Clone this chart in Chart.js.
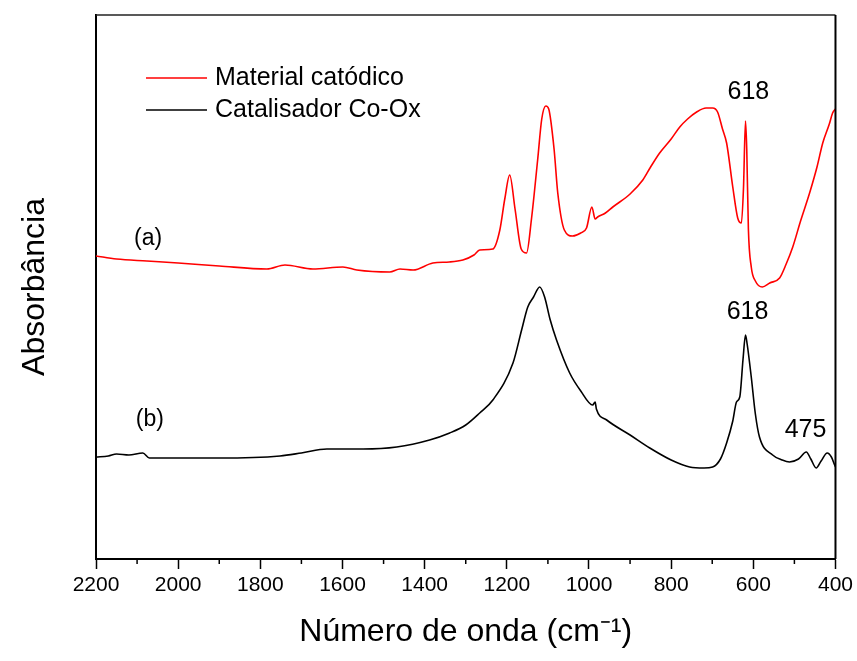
<!DOCTYPE html>
<html>
<head>
<meta charset="utf-8">
<script src="https://cdn.jsdelivr.net/npm/chart.js@4.4.0/dist/chart.umd.min.js"></script>
<style>
  html, body { margin: 0; padding: 0; background: #fff; }
  #wrap { width: 857px; height: 661px; }
</style>
</head>
<body>
<div id="wrap"><canvas id="ftirChart"></canvas></div>
<script>
// Spectrum (a) - Material catódico (wavenumber cm-1, absorbance a.u.)
const wavenumbersA = [2200, 2150, 2076, 2000, 1900, 1784, 1740, 1672, 1599, 1565, 1485, 1460, 1428, 1380, 1340, 1307, 1280, 1266, 1234, 1217, 1205, 1193, 1180, 1165, 1152, 1140, 1125, 1115, 1105, 1098, 1085, 1076, 1060, 1040, 1020, 1006, 993, 985, 979, 960, 942, 900, 869, 850, 828, 800, 779, 760, 738, 715, 699, 687, 675, 665, 650, 638, 629, 624, 619, 616, 612, 605, 595, 578, 560, 536, 520, 504, 485, 463, 445, 431, 415, 407, 400];
const absorbanceA = [303, 300, 298, 296, 293, 290, 294, 290, 292, 289, 287, 290, 289, 296, 297, 299, 304, 309, 310, 329, 360, 384, 350, 310, 306, 340, 399, 440, 453, 450, 410, 366, 329, 323, 326, 331, 352, 340, 342, 346, 352, 365, 379, 392, 406, 420, 432, 440, 447, 451, 451, 447, 430, 416, 372, 341, 336, 370, 438, 410, 330, 292, 278, 272, 276, 281, 295, 312, 338, 366, 392, 416, 435, 446, 450];

// Spectrum (b) - Catalisador Co-Ox
const wavenumbersB = [2200, 2170, 2150, 2120, 2086, 2070, 2052, 1900, 1752, 1700, 1638, 1550, 1468, 1388, 1339, 1300, 1266, 1234, 1185, 1164, 1149, 1135, 1120, 1108, 1095, 1079, 1047, 1020, 991, 985, 982, 957, 900, 852, 800, 755, 720, 699, 680, 665, 650, 641, 633, 625, 619, 615, 605, 595, 585, 553, 530, 512, 490, 471, 460, 447, 435, 420, 410, 402, 400];
const absorbanceB = [102, 103, 105, 104, 106, 101, 101, 101, 103, 106, 110, 110, 112, 119, 126, 134, 146, 159, 196, 229, 252, 262, 272, 262, 240, 219, 186, 168, 154, 157, 150, 139, 124, 111, 99, 92, 91, 92, 100, 116, 138, 157, 162, 200, 224, 215, 182, 145, 122, 104, 99, 97, 100, 107, 100, 91, 98, 106, 102, 94, 92];

const seriesNames = ["Material catódico", "Catalisador Co-Ox"];
const seriesColors = ["#ff0000", "#000000"];

// x axis ticks
const majorTicks = [2200, 2000, 1800, 1600, 1400, 1200, 1000, 800, 600, 400];
const minorTicks = [2100, 1900, 1700, 1500, 1300, 1100, 900, 700, 500];

// peak labels (text, wavenumber, absorbance)
const peakLabels = [
    { text: "618", wn: 612, abs: 467 },
    { text: "618", wn: 614, abs: 247 },
    { text: "475", wn: 473, abs: 129 },
    { text: "(a)", wn: 2073, abs: 320 },
    { text: "(b)", wn: 2069, abs: 139 }
];

const FONT = "'Liberation Sans', Arial, sans-serif";

function toPoints(xs, ys) {
    return xs.map((x, i) => ({ x: x, y: ys[i] }));
}

const framePlugin = {
    id: "frame",
    afterDraw(chart) {
        const ctx = chart.ctx;
        const area = chart.chartArea;
        const xScale = chart.scales.x;
        ctx.save();
        // top and right border
        ctx.strokeStyle = "#222";
        ctx.lineWidth = 1.5;
        ctx.beginPath();
        ctx.moveTo(area.left, area.top);
        ctx.lineTo(area.right, area.top);
        ctx.stroke();
        ctx.strokeStyle = "#000";
        ctx.lineWidth = 2;
        ctx.beginPath();
        ctx.moveTo(area.right, area.top);
        ctx.lineTo(area.right, area.bottom);
        ctx.stroke();
        // minor ticks
        ctx.lineWidth = 1.5;
        minorTicks.forEach(v => {
            const px = xScale.getPixelForValue(v);
            ctx.beginPath();
            ctx.moveTo(px, area.bottom);
            ctx.lineTo(px, area.bottom + 5);
            ctx.stroke();
        });
        // legend
        ctx.font = "25px " + FONT;
        ctx.textBaseline = "middle";
        chart.data.datasets.forEach((ds, i) => {
            const y = area.top + 63 + i * 32;
            ctx.strokeStyle = ds.borderColor;
            ctx.lineWidth = 1.6;
            ctx.beginPath();
            ctx.moveTo(area.left + 50, y);
            ctx.lineTo(area.left + 111, y);
            ctx.stroke();
            ctx.fillStyle = "#000";
            ctx.textAlign = "left";
            ctx.fillText(ds.label, area.left + 119, y);
        });
        // peak labels
        ctx.textAlign = "center";
        ctx.fillStyle = "#000";
        peakLabels.forEach(p => {
            ctx.font = (p.text.startsWith("(") ? "23px " : "25px ") + FONT;
            ctx.fillText(p.text, xScale.getPixelForValue(p.wn), chart.scales.y.getPixelForValue(p.abs));
        });
        ctx.restore();
    }
};

const ctx = document.getElementById("ftirChart").getContext("2d");
const myChart = new Chart(ctx, {
    type: "line",
    data: {
        datasets: [
            {
                label: seriesNames[0],
                data: toPoints(wavenumbersA, absorbanceA),
                borderColor: seriesColors[0],
                borderWidth: 1.6,
                pointRadius: 0,
                cubicInterpolationMode: "monotone",
                fill: false
            },
            {
                label: seriesNames[1],
                data: toPoints(wavenumbersB, absorbanceB),
                borderColor: seriesColors[1],
                borderWidth: 1.6,
                pointRadius: 0,
                cubicInterpolationMode: "monotone",
                fill: false
            }
        ]
    },
    options: {
        responsive: true,
        maintainAspectRatio: false,
        animation: false,
        layout: { padding: { left: 12, right: 21, top: 15, bottom: 6 } },
        plugins: {
            legend: { display: false },
            tooltip: { enabled: false }
        },
        scales: {
            x: {
                type: "linear",
                reverse: true,
                min: 400,
                max: 2200,
                afterBuildTicks(scale) {
                    scale.ticks = majorTicks.map(v => ({ value: v }));
                },
                afterFit(scale) {
                    scale.height = 96;
                },
                ticks: {
                    autoSkip: false,
                    maxRotation: 0,
                    padding: 4,
                    color: "#000",
                    font: { family: FONT, size: 21 },
                    callback: value => String(value)
                },
                grid: {
                    drawOnChartArea: false,
                    drawTicks: true,
                    tickLength: 10,
                    tickColor: "#000",
                    tickWidth: 1.5
                },
                border: { display: true, color: "#000", width: 2 },
                title: {
                    display: true,
                    text: "Número de onda (cm⁻¹)",
                    color: "#000",
                    font: { family: FONT, size: 32 },
                    padding: { top: 0, bottom: 4 }
                }
            },
            y: {
                min: 0,
                max: 544,
                afterFit(scale) {
                    scale.width = 84;
                },
                ticks: { display: false },
                grid: { display: false },
                border: { display: true, color: "#000", width: 2 },
                title: {
                    display: true,
                    text: "Absorbância",
                    color: "#000",
                    font: { family: FONT, size: 32 },
                    padding: { top: 4, bottom: 4 }
                }
            }
        }
    },
    plugins: [framePlugin]
});
</script>
</body>
</html>
